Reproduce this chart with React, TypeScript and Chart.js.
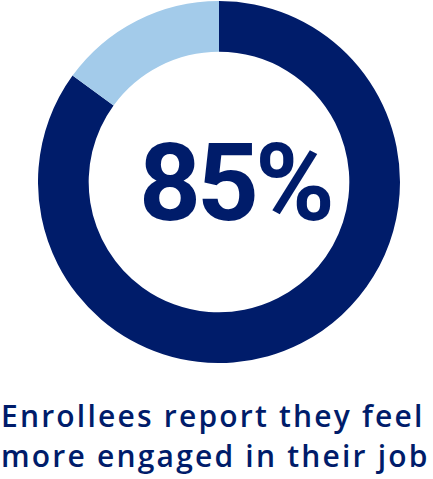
import React, { useEffect, useRef } from "react";
import { Chart, registerables } from "chart.js";

Chart.register(...registerables);

const categories = ["More engaged", "Other"];
const values = [85, 15];
const colors = ["#001C6A", "#A3CBEA"];
const centerLabel = "85%";
const captionLines = ["Enrollees report they feel", "more engaged in their job"];

export default function App() {
  const ref = useRef<HTMLCanvasElement | null>(null);

  useEffect(() => {
    if (!ref.current) return;
    const chart = new Chart(ref.current, {
      type: "doughnut",
      data: {
        labels: categories,
        datasets: [
          {
            data: values,
            backgroundColor: colors,
            borderWidth: 0,
            hoverOffset: 0,
          },
        ],
      },
      options: {
        responsive: false,
        animation: false,
        cutout: "72%",
        rotation: 0,
        layout: { padding: 0 },
        plugins: {
          legend: { display: false },
          tooltip: { enabled: false },
        },
        events: [],
      },
    });
    return () => chart.destroy();
  }, []);

  return (
    <div
      style={{
        position: "absolute",
        left: 0,
        top: 0,
        width: 433,
        height: 479,
        background: "#ffffff",
        overflow: "hidden",
      }}
    >
      <canvas
        ref={ref}
        width={362}
        height={362}
        style={{ position: "absolute", left: 38, top: 1, width: 362, height: 362 }}
      />
      <div
        style={{
          position: "absolute",
          left: 139,
          top: 129,
          fontFamily: "Roboto",
          fontWeight: 700,
          fontSize: 108,
          lineHeight: "108px",
          letterSpacing: -4,
          color: "#001C6A",
          whiteSpace: "nowrap",
        }}
      >
        {centerLabel}
      </div>
      <div
        style={{
          position: "absolute",
          left: 1,
          top: 396,
          fontFamily: "Open Sans",
          fontWeight: 600,
          fontSize: 30,
          lineHeight: "40px",
          letterSpacing: 2.2,
          color: "#001C6A",
          whiteSpace: "nowrap",
        }}
      >
        {captionLines.map((l, i) => (
          <div key={i}>{l}</div>
        ))}
      </div>
    </div>
  );
}
